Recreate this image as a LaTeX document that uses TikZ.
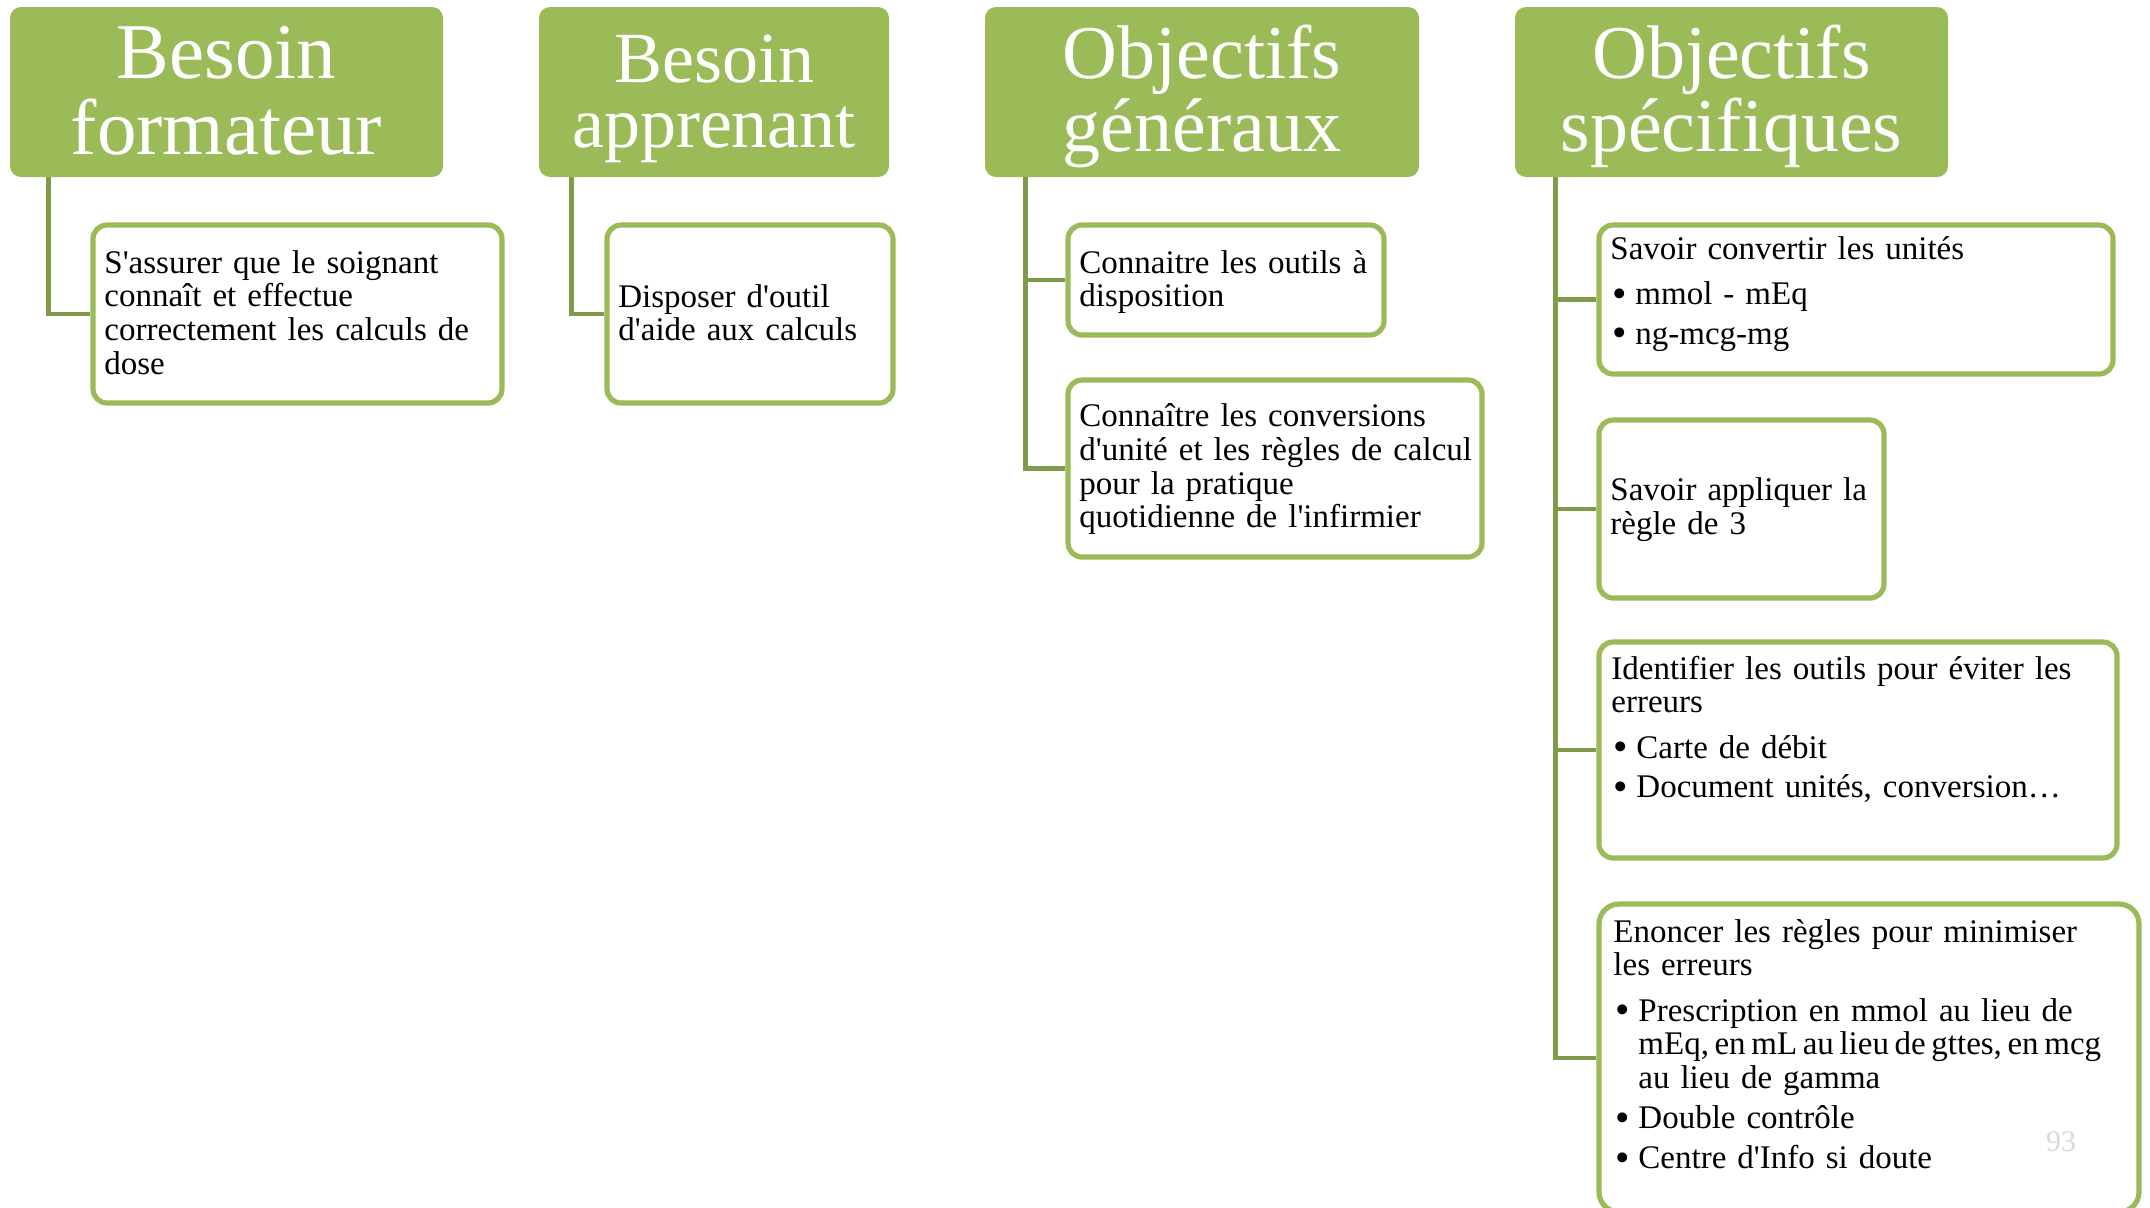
\documentclass[tikz,border=0pt]{standalone}
\usepackage{fontspec}
\usepackage{graphicx}
\setmainfont{Liberation Serif}[Ligatures=TeXOff]
\definecolor{hgreen}{HTML}{9BBB59}
\definecolor{cgreen}{HTML}{7F9A48}
\newcommand\bul{\hspace*{1pt}\makebox[11.5pt][l]{\raisebox{-0.09em}{\scalebox{1.25}{\textbullet}}}}
\newcommand\cnt{\hspace*{12.5pt}}
\begin{document}
\begin{tikzpicture}[x=0.5pt,y=-0.5pt,
  head/.style={fill=hgreen, rounded corners=5.5pt, text=white, align=center,
    inner sep=0pt, minimum height=85pt, text height=62.5pt},
  leaf/.style={draw=hgreen, line width=2.6pt, fill=white, rounded corners=7pt, inner sep=0pt},
  ltext/.style={anchor=base west, align=left, inner sep=0pt, text=black, text width=#1,
    font=\fontsize{16.5}{16.9}\selectfont},
  conn/.style={draw=cgreen, line width=2.3pt}]
\useasboundingbox (0,0) rectangle (2150,1207);

% headers
\node[head, minimum width=216.5pt, text depth=0.5pt, font=\fontsize{39.5}{38}\selectfont] (h1) at (226.5,92) {Besoin\\formateur};
\node[head, minimum width=175pt, text depth=7.5pt, font=\fontsize{36}{32.5}\selectfont] (h2) at (714,92) {Besoin\\apprenant};
\node[head, minimum width=217pt, text depth=3.5pt, font=\fontsize{38}{36.5}\selectfont] (h3) at (1202,92) {Objectifs\\généraux};
\node[head, minimum width=216.5pt, text depth=3.5pt, font=\fontsize{38}{36.5}\selectfont] (h4) at (1731.5,92) {Objectifs\\spécifiques};

% leaf boxes
\node[leaf, minimum width=204.5pt, minimum height=89pt] (c1) at (297.5,314) {};
\node[leaf, minimum width=143pt, minimum height=89pt] (c2) at (750,314) {};
\node[leaf, minimum width=158pt, minimum height=55pt] (c3a) at (1226,280) {};
\node[leaf, minimum width=207pt, minimum height=88.5pt] (c3b) at (1275,468.5) {};
\node[leaf, minimum width=257pt, minimum height=74.5pt] (c4a) at (1856,299.5) {};
\node[leaf, minimum width=142.5pt, minimum height=89pt] (c4b) at (1741.5,509) {};
\node[leaf, minimum width=259pt, minimum height=108pt] (c4c) at (1858,750) {};
\node[leaf, rounded corners=10pt, minimum width=270pt, minimum height=154pt] (c4d) at (1869,1058) {};

% leaf texts
\node[ltext=230pt] (c1t) at (104,273)
  {S'assurer que le soignant\\connaît et effectue\\correctement les calculs de\\dose};
\node[ltext=170pt] (c2t) at (618,307)
  {Disposer d'outil\\d'aide aux calculs};
\node[ltext=180pt] (c3at) at (1079,273)
  {Connaitre les outils à\\disposition};
\node[ltext=230pt] (c3bt) at (1079,426.5)
  {Connaître les conversions\\d'unité et les règles de calcul\\pour la pratique\\quotidienne de l'infirmier};
\node[ltext=260pt] (c4at) at (1610,259)
  {Savoir convertir les unités\\[5.7pt]\bul mmol - mEq\\[3pt]\bul ng-mcg-mg};
\node[ltext=170pt] (c4bt) at (1610,500.5)
  {Savoir appliquer la\\règle de 3};
\node[ltext=260pt] (c4ct) at (1611,679)
  {Identifier les outils pour éviter les\\erreurs\\[5.7pt]\bul Carte de débit\\[3pt]\bul Document unités, conversion…};
\node[ltext=268pt] (c4dt) at (1613,942)
  {Enoncer les règles pour minimiser\\les erreurs\\[5.7pt]\bul Prescription en mmol au lieu de\\\cnt {\spaceskip=2.8pt mEq, en mL au lieu de gttes, en mcg}\\\cnt au lieu de gamma\\[3pt]\bul Double contrôle\\[3pt]\bul Centre d'Info si doute};

\node[text=black!15, font=\fontsize{15}{18}\selectfont, inner sep=0pt] (pg) at (2061,1142) {93};

% connectors
\coordinate (t1) at ([xshift=19.5pt]h1.south west);
\coordinate (t2) at ([xshift=16.5pt]h2.south west);
\coordinate (t3) at ([xshift=20.5pt]h3.south west);
\coordinate (t4) at ([xshift=20.5pt]h4.south west);
\draw[conn] (t1) |- (c1.west);
\draw[conn] (t2) |- (c2.west);
\draw[conn] (t3) |- (c3b.west);
\draw[conn] (c3a.west) -- (c3a.west -| t3);
\draw[conn] (t4) |- (c4d.west);
\draw[conn] (c4a.west) -- (c4a.west -| t4);
\draw[conn] (c4b.west) -- (c4b.west -| t4);
\draw[conn] (c4c.west) -- (c4c.west -| t4);
\end{tikzpicture}
\end{document}
